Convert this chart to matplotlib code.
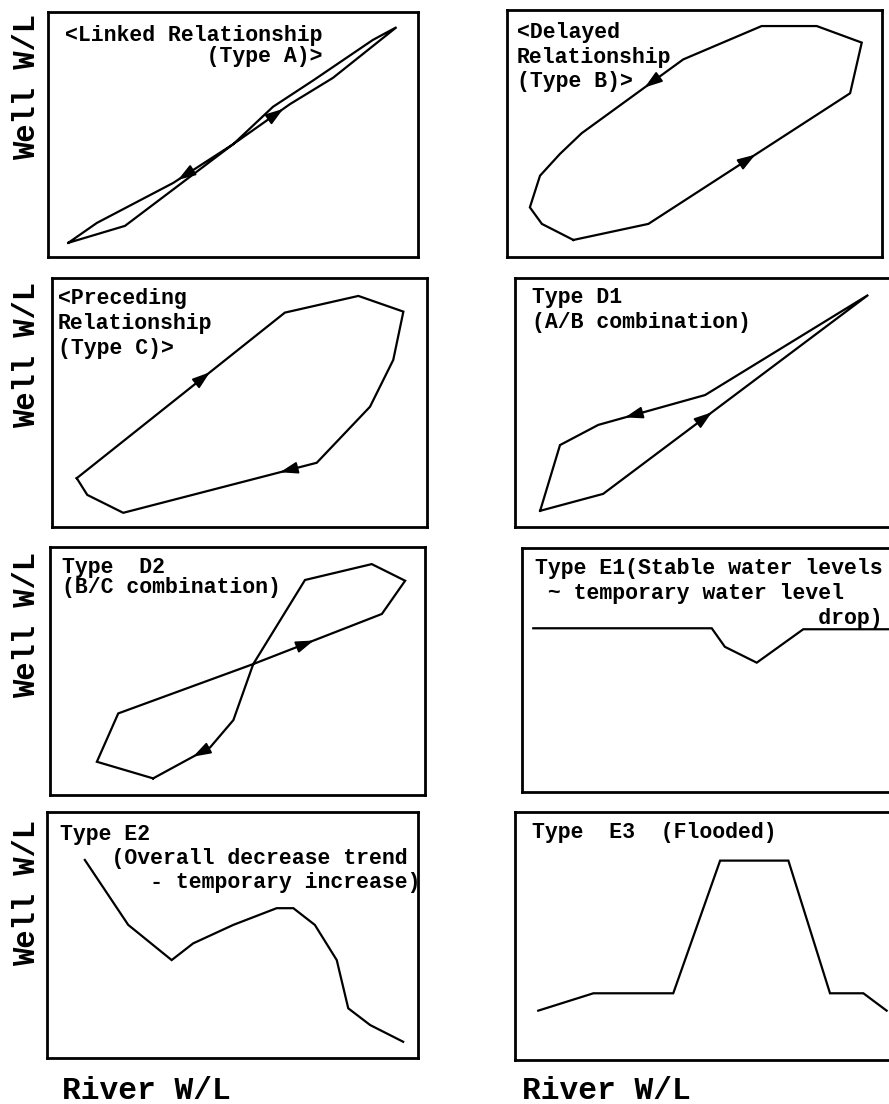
import numpy as np
import matplotlib.pyplot as plt

plt.rcParams["font.family"] = ["Liberation Mono", "DejaVu Sans Mono"]
plt.rcParams["font.weight"] = "bold"

# Type A (linked)
a_x = [5.5, 20.8, 50.1, 65.4, 77.0, 94.2, 87.8, 71.6, 60.8, 50.1, 33.8, 13.2, 5.5]
a_y = [5.8, 12.7, 46.1, 62.4, 73.1, 93.8, 88.6, 72.0, 61.3, 46.1, 30.2, 13.9, 5.8]
a_arrows = [(2, 0.88), (9, 0.92)]

# Type B (delayed)
b_x = [17.7, 37.7, 91.5, 94.6, 82.6, 67.9, 47.0, 19.9, 14.1, 8.8, 6.1, 9.3, 17.7]
b_y = [6.9, 13.4, 66.3, 86.8, 93.5, 93.5, 80.0, 50.1, 41.7, 32.9, 20.1, 13.4, 6.9]
b_arrows = [(1, 0.53), (6, 0.38)]

# Type C (preceding)
c_x = [6.6, 62.1, 81.7, 93.7, 91.0, 84.8, 70.6, 19.0, 9.4, 6.6]
c_y = [19.6, 86.1, 92.8, 86.5, 67.1, 48.3, 25.8, 5.7, 12.9, 19.6]
c_arrows = [(0, 0.64), (6, 0.19)]

# Type D1
d1_x = [6.7, 23.5, 94.2, 50.7, 22.2, 12.0, 6.7]
d1_y = [6.5, 13.3, 93.2, 53.0, 41.0, 32.9, 6.5]
d1_arrows = [(1, 0.41), (3, 0.75)]

# Type D2
d2_x = [27.5, 12.5, 18.2, 54.2, 88.5, 94.7, 85.8, 68.0, 54.2, 48.9, 42.7, 27.5]
d2_y = [6.7, 13.4, 32.9, 52.8, 73.0, 86.4, 93.1, 86.7, 52.8, 30.2, 19.2, 6.7]
d2_arrows = [(3, 0.47), (10, 0.3)]

# Type E1, E2, E3
e1_x = [3.0, 50.6, 54.1, 62.6, 75.0, 100.0]
e1_y = [67.1, 67.1, 59.5, 53.0, 66.7, 66.7]
e2_x = [10.2, 21.9, 24.2, 33.6, 39.4, 50.2, 61.9, 66.4, 72.2, 78.1, 81.2, 87.1, 96.0]
e2_y = [80.5, 54.1, 51.3, 39.8, 46.6, 54.1, 60.9, 60.9, 54.1, 39.8, 20.2, 13.4, 6.6]
e3_x = [6.2, 20.9, 42.2, 54.7, 72.9, 84.0, 92.9, 99.1]
e3_y = [19.9, 26.9, 26.9, 80.4, 80.4, 26.9, 26.9, 19.9]

titles = [
    "<Linked Relationship\n           (Type A)>",
    "<Delayed\nRelationship\n(Type B)>",
    "<Preceding\nRelationship\n(Type C)>",
    "Type D1\n(A/B combination)",
    "Type  D2\n(B/C combination)",
    "Type E1(Stable water levels\n ~ temporary water level\n                      drop)",
    "Type E2\n    (Overall decrease trend\n       - temporary increase)",
    "Type  E3  (Flooded)",
]

W, H = 889, 1104
fig = plt.figure(figsize=(W / 100, H / 100), dpi=100)

# panel boxes in pixels: left, top, right, bottom
boxes = [
    (48, 12, 418, 257), (507, 10, 882, 257),
    (52, 278, 427, 527), (515, 278, 890, 527),
    (50, 547, 425, 795), (522, 548, 897, 792),
    (47, 812, 418, 1058), (515, 812, 890, 1060),
]
# text anchor (axes fraction) and line spacing
text_pos = [
    (0.046, 0.945, 1.0), (0.026, 0.95, 1.2), (0.016, 0.958, 1.25), (0.045, 0.962, 1.2),
    (0.032, 0.958, 0.9), (0.035, 0.958, 1.25), (0.035, 0.952, 1.2), (0.045, 0.958, 1.0),
]

series = [
    (a_x, a_y, a_arrows), (b_x, b_y, b_arrows), (c_x, c_y, c_arrows),
    (d1_x, d1_y, d1_arrows), (d2_x, d2_y, d2_arrows),
    (e1_x, e1_y, []), (e2_x, e2_y, []), (e3_x, e3_y, []),
]


def add_arrow(ax, xs, ys, seg, frac):
    x0, y0, x1, y1 = xs[seg], ys[seg], xs[seg + 1], ys[seg + 1]
    px = x0 + (x1 - x0) * frac
    py = y0 + (y1 - y0) * frac
    dx, dy = x1 - x0, y1 - y0
    n = np.hypot(dx, dy)
    ax.annotate("", xy=(px, py), xytext=(px - dx / n * 4, py - dy / n * 4),
                arrowprops=dict(arrowstyle="-|>,head_length=0.9,head_width=0.3",
                                color="black", lw=1.3, shrinkA=0, shrinkB=0,
                                mutation_scale=12))


for i, (l, t, r, b) in enumerate(boxes):
    ax = fig.add_axes([l / W, 1 - b / H, (r - l) / W, (b - t) / H])
    xs, ys, arrows = series[i]
    ax.plot(xs, ys, color="black", lw=1.6, solid_joinstyle="miter")
    for seg, frac in arrows:
        add_arrow(ax, xs, ys, seg, frac)
    tx, ty, ls = text_pos[i]
    ax.text(tx, ty, titles[i], transform=ax.transAxes, ha="left", va="top",
            fontsize=15.5, fontweight="bold", linespacing=ls)
    ax.set_xlim(0, 100)
    ax.set_ylim(0, 100)
    ax.set_xticks([])
    ax.set_yticks([])
    for s in ax.spines.values():
        s.set_linewidth(2)

# axis labels
for yc in [87, 355, 625, 893]:
    fig.text(27 / W, 1 - yc / H, "Well W/L", rotation=90, ha="center", va="center",
             fontsize=22, fontweight="bold")
fig.text(146 / W, 1 - 1091 / H, "River W/L", ha="center", va="center",
         fontsize=22.5, fontweight="bold")
fig.text(606 / W, 1 - 1091 / H, "River W/L", ha="center", va="center",
         fontsize=22.5, fontweight="bold")

fig.savefig("out.png", dpi=100, facecolor="white")
